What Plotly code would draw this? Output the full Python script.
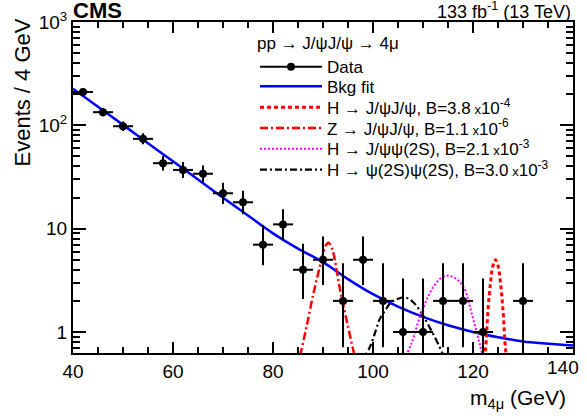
import numpy as np
import plotly.graph_objects as go

# ---------------- data ----------------
mass_centres = [42, 46, 50, 54, 58, 62, 66, 70, 74, 78, 82, 86, 90, 94, 98,
                102, 106, 110, 114, 118, 122, 130]
events = [210, 134, 98, 74, 43, 37, 34, 22, 18, 7, 11, 4, 5, 2, 5,
          2, 1, 1, 2, 2, 1, 2]
bin_half_width = 2.0

bkg_mass = [40, 45, 50, 55, 60, 65, 70, 75, 80, 85, 90, 95, 100, 105, 110,
            115, 120, 125, 130, 135, 140]
bkg_fit = [226, 151, 101, 67, 44.8, 29.9, 19.9, 13.4, 9.0, 6.4, 4.75, 3.25,
           2.32, 1.76, 1.40, 1.16, 1.0, 0.89, 0.81, 0.77, 0.74]

hjj_mass = [121.5, 122.0, 122.5, 123.0, 123.5, 124.0, 124.5, 125.0, 125.5,
            126.0, 126.5, 127.0, 127.5]
hjj_val = [0.22, 0.45, 0.68, 1.62, 3.0, 4.4, 5.0, 4.4, 3.0, 1.62, 0.68, 0.45, 0.22]

zjj_mass = [84.5, 85.5, 86.7, 88.1, 89.7, 90.5, 91.1, 91.7, 92.1, 93.3, 94.7, 96.2, 97.0]
zjj_val = [0.42, 0.62, 1.12, 2.37, 4.96, 6.8, 7.3, 6.6, 5.75, 2.74, 1.31, 0.62, 0.42]

hjp_mass = [106.0, 107.7, 109.4, 111.0, 112.1, 113.5, 115.0, 116.5, 118.1,
            119.9, 121.3, 122.5]
hjp_val = [0.5, 0.78, 1.41, 2.2, 2.74, 3.3, 3.5, 3.3, 2.74, 1.41, 0.78, 0.45]

hpp_mass = [97.5, 99.4, 100.6, 101.4, 102.7, 103.4, 105.0, 106.4, 108.0,
            109.7, 111.4, 113.3, 114.4, 115.0]
hpp_val = [0.5, 0.72, 1.05, 1.35, 1.69, 1.89, 2.1, 2.16, 1.95, 1.52, 1.09,
           0.72, 0.54, 0.45]

legend_header = "pp \u2192 J/\u03c8J/\u03c8 \u2192 4\u03bc"
small_x = "<span style='font-size:13px'> x</span>"
names = ["Data", "Bkg fit",
         "H \u2192 J/\u03c8J/\u03c8, B=3.8" + small_x + "10<sup>-4</sup>",
         "Z \u2192 J/\u03c8J/\u03c8, B=1.1" + small_x + "10<sup>-6</sup>",
         "H \u2192 J/\u03c8\u03c8(2S), B=2.1" + small_x + "10<sup>-3</sup>",
         "H \u2192 \u03c8(2S)\u03c8(2S), B=3.0" + small_x + "10<sup>-3</sup>"]

x_tick_vals = [40, 60, 80, 100, 120, 140]
x_tick_text = ["40", "60", "80", "100", "120", ""]
last_x_label = "140"
y_major = [1, 10, 100, 1000]
y_major_text = ["1", "10", "10<sup>2</sup>", "10<sup>3</sup>"]

# ---------------- Poisson (Garwood, Wilson-Hilferty approx.) errors ----------------
n = np.array(events, dtype=float)
lo = n * (1 - 1 / (9 * n) - 1 / (3 * np.sqrt(n))) ** 3
up = (n + 1) * (1 - 1 / (9 * (n + 1)) + 1 / (3 * np.sqrt(n + 1))) ** 3
err_lo = n - lo
err_hi = up - n

FONT = "Liberation Sans, Arial, Helvetica, sans-serif"
BLUE = "#0000ff"
RED = "#ff0000"
MAG = "#ff00ff"

# plot-area geometry (pixels)
L, R, T, B = 73, 573, 22, 353
W, H = R - L, B - T


def px(xp):
    return (xp - L) / W


def py(yp):
    return (B - yp) / H


fig = go.Figure()

# curves
fig.add_trace(go.Scatter(x=bkg_mass, y=bkg_fit, mode="lines",
                         line=dict(color=BLUE, width=2.5, shape="spline"),
                         showlegend=False))
fig.add_trace(go.Scatter(x=zjj_mass, y=zjj_val, mode="lines",
                         line=dict(color=RED, width=2.5, dash="8px,3px,2px,3px", shape="spline"),
                         showlegend=False))
fig.add_trace(go.Scatter(x=hpp_mass, y=hpp_val, mode="lines",
                         line=dict(color="black", width=2.2, dash="7px,3px,2px,3px", shape="spline"),
                         showlegend=False))
fig.add_trace(go.Scatter(x=hjp_mass, y=hjp_val, mode="lines",
                         line=dict(color=MAG, width=2, dash="2px,2px", shape="spline"),
                         showlegend=False))
fig.add_trace(go.Scatter(x=hjj_mass, y=hjj_val, mode="lines",
                         line=dict(color=RED, width=3, dash="4px,3px", shape="spline"),
                         showlegend=False))

# data
fig.add_trace(go.Scatter(
    x=mass_centres, y=events, mode="markers", showlegend=False,
    marker=dict(color="black", size=8, symbol="circle"),
    error_y=dict(type="data", symmetric=False, array=err_hi, arrayminus=err_lo,
                 color="black", thickness=2, width=0),
    error_x=dict(type="constant", value=bin_half_width, color="black",
                 thickness=2, width=0)))

# legend entries: one legend per entry so the row spacing matches
leg_styles = [
    dict(mode="lines+markers", line=dict(color="black", width=2),
         marker=dict(color="black", size=8)),
    dict(mode="lines", line=dict(color=BLUE, width=2.5)),
    dict(mode="lines", line=dict(color=RED, width=3, dash="4px,3px")),
    dict(mode="lines", line=dict(color=RED, width=2.5, dash="8px,3px,2px,3px")),
    dict(mode="lines", line=dict(color=MAG, width=2, dash="2px,2px")),
    dict(mode="lines", line=dict(color="black", width=2.2, dash="7px,3px,2px,3px")),
]
row_centres = [66, 86.8, 107.6, 128.4, 149.2, 170]
legend_layouts = {}
for i, (nm, st) in enumerate(zip(names, leg_styles)):
    key = "legend" if i == 0 else f"legend{i + 1}"
    fig.add_trace(go.Scatter(x=[None], y=[None], name=nm, showlegend=True,
                             legend=key, **st))
    ld = dict(x=px(255), xanchor="left", bgcolor="rgba(0,0,0,0)", borderwidth=0,
              itemwidth=62, font=dict(size=17, family=FONT))
    if i == 0:
        ld.update(y=py(27), yanchor="top",
                  title=dict(text=legend_header, font=dict(size=17, family=FONT)))
    else:
        ld.update(y=py(row_centres[i]), yanchor="middle")
    legend_layouts[key] = ld

y_minor = []
for dec in [0.1, 1, 10, 100]:
    for k in range(2, 10):
        v = k * dec
        if 0.62 < v < 1000:
            y_minor.append(v)

fig.update_layout(
    width=587, height=416,
    margin=dict(l=L, r=587 - R, t=T, b=416 - B, autoexpand=False),
    paper_bgcolor="white", plot_bgcolor="white",
    font=dict(family=FONT, size=17, color="black"),
    showlegend=True,
    xaxis=dict(range=[40, 140], tickmode="array", tickvals=x_tick_vals,
               ticktext=x_tick_text, ticks="inside", ticklen=11, automargin=False,
               tickwidth=1.5, tickcolor="black", showline=True, linecolor="black",
               linewidth=2, mirror="ticks", showgrid=False, zeroline=False,
               tickfont=dict(size=19, family=FONT),
               minor=dict(dtick=5, tick0=40, ticks="inside", ticklen=6,
                          tickwidth=1.5, tickcolor="black", showgrid=False)),
    yaxis=dict(type="log", range=[np.log10(0.626), 3], tickmode="array",
               tickvals=y_major, ticktext=y_major_text, ticks="inside", ticklen=13,
               automargin=False,
               tickwidth=1.5, tickcolor="black", showline=True, linecolor="black",
               linewidth=2, mirror="ticks", showgrid=False, zeroline=False,
               tickfont=dict(size=19, family=FONT),
               minor=dict(tickmode="array", tickvals=y_minor, ticks="inside",
                          ticklen=7, tickwidth=1.5, tickcolor="black", showgrid=False)),
    annotations=[
        dict(text="<b>CMS</b>", xref="paper", yref="paper", x=0, y=py(10),
             xanchor="left", yanchor="middle", xshift=-2, showarrow=False,
             font=dict(size=22, family=FONT)),
        dict(text="133 fb<sup>-1</sup> (13 TeV)", xref="paper", yref="paper", x=1, y=py(10),
             xanchor="right", yanchor="middle", showarrow=False,
             font=dict(size=18, family=FONT)),
        dict(text=last_x_label, xref="paper", yref="paper", x=px(581), y=0,
             xanchor="right", yanchor="top", yshift=-2, showarrow=False,
             font=dict(size=19, family=FONT)),
        dict(text="m<sub>4\u03bc</sub> (GeV)", xref="paper", yref="paper", x=px(568), y=0,
             xanchor="right", yanchor="top", yshift=-31, showarrow=False,
             font=dict(size=21, family=FONT)),
        dict(text="Events / 4 GeV", xref="paper", yref="paper", x=px(22),
             y=py(92.5), xanchor="center", yanchor="middle", textangle=-90,
             showarrow=False, font=dict(size=22, family=FONT)),
    ],
    **legend_layouts,
)

fig.write_html(
    "out.html",
    config={"displayModeBar": False},
    post_script="document.body.style.margin='0px';document.body.style.overflow='hidden';",
)
